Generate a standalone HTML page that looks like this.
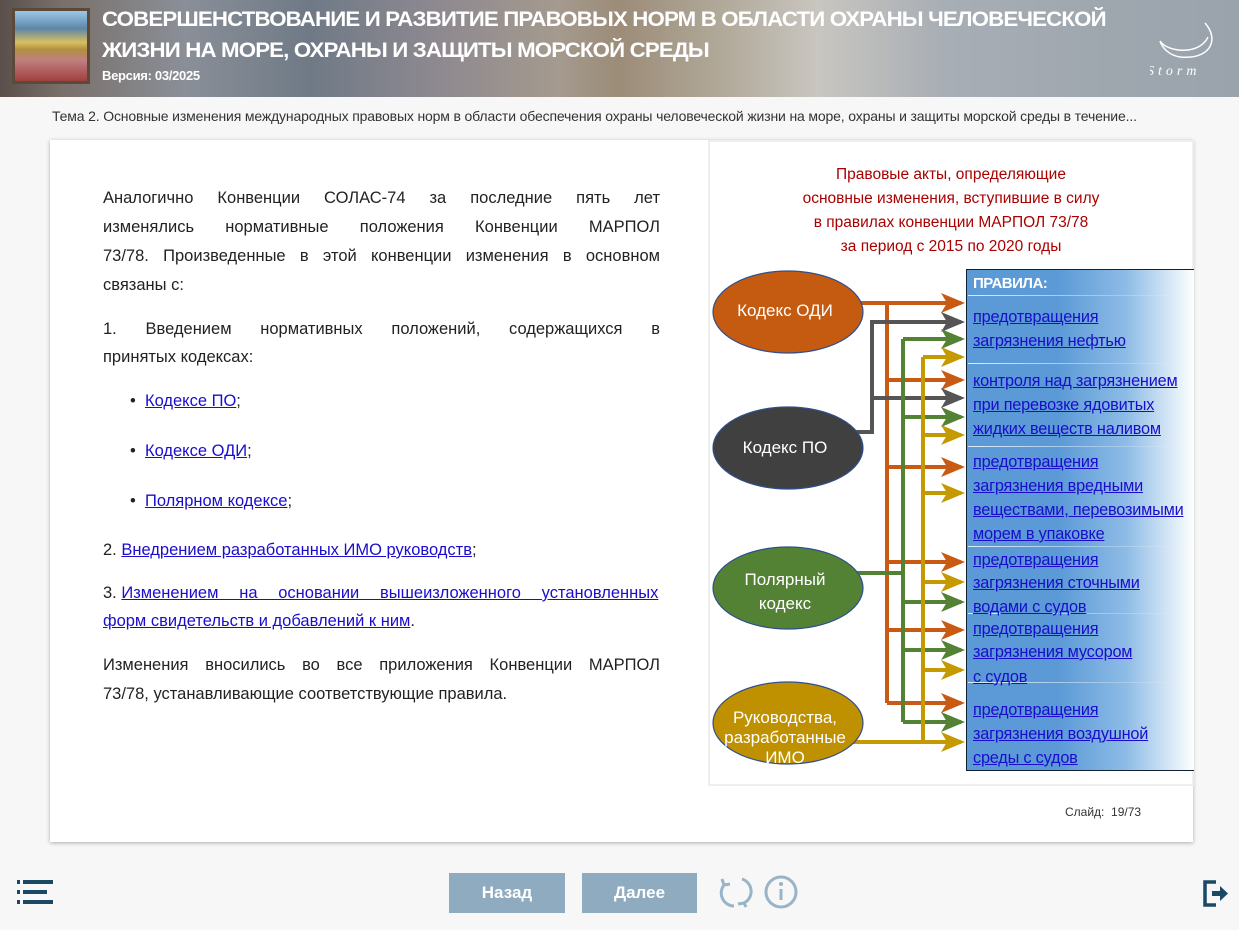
<!DOCTYPE html>
<html><head><meta charset="utf-8">
<style>
*{margin:0;padding:0;box-sizing:border-box}
body{width:1239px;height:930px;background:#f7f7f7;position:relative;overflow:hidden;font-family:"Liberation Sans",sans-serif}
.hdr{position:absolute;left:0;top:0;width:1239px;height:97px;background:linear-gradient(90deg,#5a4f4a 0%,#7a706a 5%,#8a8f98 15%,#6f7a86 25%,#8d8890 35%,#a49a8e 45%,#9c8c78 50%,#b0a898 58%,#c9c6c0 66%,#a8aeb5 76%,#9ea6ae 90%,#9aa3ac 100%)}
.hdr .t{position:absolute;left:102px;color:#fff;font-weight:bold;font-size:21px;letter-spacing:-0.8px;transform:scaleX(1.06);transform-origin:left;white-space:nowrap}
.line{position:absolute;left:103px;width:557px;font-size:16.5px;color:#222;line-height:20px;white-space:nowrap}
.j{text-align:justify;text-align-last:justify;white-space:normal}
a{color:#1a0dcc;text-decoration:underline}
.r{position:absolute;left:973px;font-size:16.3px;color:#1a0dcc;text-decoration:underline;line-height:18px;white-space:nowrap;letter-spacing:-0.2px}
.sep{position:absolute;left:968px;width:226px;height:1px;background:linear-gradient(90deg,rgba(255,255,255,.8),rgba(255,255,255,0))}
.btn{position:absolute;top:873px;height:40px;background:#8fabc0;color:#fff;font-size:17px;font-weight:bold;text-align:center;line-height:40px}
</style></head><body>
<div class="hdr">
 <div style="position:absolute;left:12px;top:8px;width:78px;height:76px;background:#5b4a3a;padding:3px"><div style="width:100%;height:100%;background:linear-gradient(180deg,#9cc8e8 0%,#5e86a8 25%,#d8c060 45%,#b09040 55%,#c08080 70%,#a04040 100%)"></div></div>
 <div class="t" style="top:8px">СОВЕРШЕНСТВОВАНИЕ И РАЗВИТИЕ ПРАВОВЫХ НОРМ В ОБЛАСТИ ОХРАНЫ ЧЕЛОВЕЧЕСКОЙ</div>
 <div class="t" style="top:39px">ЖИЗНИ НА МОРЕ, ОХРАНЫ И ЗАЩИТЫ МОРСКОЙ СРЕДЫ</div>
 <div class="t" style="top:68px;font-size:13px;letter-spacing:-0.3px;transform:none">Версия: 03/2025</div>
 <svg style="position:absolute;left:1150px;top:15px" width="80" height="70"><path d="M55 8 C70 25 60 45 30 42 C18 40 12 32 10 26 C18 38 50 40 58 22" stroke="#fff" stroke-width="1.5" fill="none"/><text x="-3" y="60" fill="#fff" font-size="14" font-style="italic" letter-spacing="4" font-family="Liberation Serif">Storm</text></svg>
</div>
<div style="position:absolute;left:52px;top:108px;font-size:14px;color:#333;letter-spacing:-0.15px;white-space:nowrap">Тема 2. Основные изменения международных правовых норм в области обеспечения охраны человеческой жизни на море, охраны и защиты морской среды в течение...</div>
<div style="position:absolute;left:50px;top:140px;width:1143px;height:702px;background:#fff;box-shadow:0 1px 4px rgba(0,0,0,.3)"></div>

<div class="line j" style="top:188px">Аналогично Конвенции СОЛАС-74 за последние пять лет</div>
<div class="line j" style="top:217px">изменялись нормативные положения Конвенции МАРПОЛ</div>
<div class="line j" style="top:246px">73/78. Произведенные в этой конвенции изменения в основном</div>
<div class="line" style="top:275px">связаны с:</div>
<div class="line j" style="top:319px">1. Введением нормативных положений, содержащихся в</div>
<div class="line" style="top:347px">принятых кодексах:</div>
<div class="line" style="top:391px;left:130px">•&nbsp;&nbsp;<a>Кодексе ПО</a>;</div>
<div class="line" style="top:441px;left:130px">•&nbsp;&nbsp;<a>Кодексе ОДИ</a>;</div>
<div class="line" style="top:491px;left:130px">•&nbsp;&nbsp;<a>Полярном кодексе</a>;</div>
<div class="line" style="top:540px">2. <a>Внедрением разработанных ИМО руководств</a>;</div>
<div class="line" style="top:583px">3. <a style="display:inline-block;width:537px;text-align:justify;text-align-last:justify">Изменением на основании вышеизложенного установленных</a></div>
<div class="line" style="top:611px"><a>форм свидетельств и добавлений к ним</a>.</div>
<div class="line j" style="top:655px">Изменения вносились во все приложения Конвенции МАРПОЛ</div>
<div class="line" style="top:684px">73/78, устанавливающие соответствующие правила.</div>

<div style="position:absolute;left:708px;top:140px;width:486px;height:646px;background:#fff;border:2px solid #eee"></div>
<div style="position:absolute;left:708px;top:163px;width:486px;text-align:center;color:#a00;font-size:15.5px;line-height:24px">Правовые акты, определяющие<br>основные изменения, вступившие в силу<br>в правилах конвенции МАРПОЛ 73/78<br>за период с 2015 по 2020 годы</div>

<div style="position:absolute;left:966px;top:269px;width:228px;height:502px;border-left:1.5px solid #123;border-top:1.5px solid #123;border-bottom:1.5px solid #123;background:linear-gradient(90deg,#5b9ad6 0%,#5b9ad6 40%,#8dbbe6 70%,#fff 100%)"></div>
<div style="position:absolute;left:973px;top:275px;color:#fff;font-weight:bold;font-size:15px;letter-spacing:-0.5px">ПРАВИЛА:</div>
<div class="sep" style="top:295px"></div><div class="sep" style="top:363px"></div><div class="sep" style="top:446px"></div><div class="sep" style="top:546px"></div><div class="sep" style="top:613px"></div><div class="sep" style="top:682px"></div>
<div class="r" style="top:308px">предотвращения</div>
<div class="r" style="top:332px">загрязнения нефтью</div>
<div class="r" style="top:372px">контроля над загрязнением</div>
<div class="r" style="top:396px">при перевозке ядовитых</div>
<div class="r" style="top:420px">жидких веществ наливом</div>
<div class="r" style="top:453px">предотвращения</div>
<div class="r" style="top:477px">загрязнения вредными</div>
<div class="r" style="top:501px">веществами, перевозимыми</div>
<div class="r" style="top:525px">морем в упаковке</div>
<div class="r" style="top:551px">предотвращения</div>
<div class="r" style="top:574px">загрязнения сточными</div>
<div class="r" style="top:598px">водами с судов</div>
<div class="r" style="top:620px">предотвращения</div>
<div class="r" style="top:643px">загрязнения мусором</div>
<div class="r" style="top:668px">с судов</div>
<div class="r" style="top:701px">предотвращения</div>
<div class="r" style="top:725px">загрязнения воздушной</div>
<div class="r" style="top:749px">среды с судов</div>

<svg style="position:absolute;left:0;top:0" width="1239" height="930">
<defs>
<marker id="mo" markerWidth="6" markerHeight="5" refX="5" refY="2.5" orient="auto" markerUnits="strokeWidth"><path d="M0 0 L6 2.5 L0 5 L1.5 2.5Z" fill="#c85a14"/></marker>
<marker id="mg" markerWidth="6" markerHeight="5" refX="5" refY="2.5" orient="auto" markerUnits="strokeWidth"><path d="M0 0 L6 2.5 L0 5 L1.5 2.5Z" fill="#555"/></marker>
<marker id="mn" markerWidth="6" markerHeight="5" refX="5" refY="2.5" orient="auto" markerUnits="strokeWidth"><path d="M0 0 L6 2.5 L0 5 L1.5 2.5Z" fill="#548235"/></marker>
<marker id="my" markerWidth="6" markerHeight="5" refX="5" refY="2.5" orient="auto" markerUnits="strokeWidth"><path d="M0 0 L6 2.5 L0 5 L1.5 2.5Z" fill="#c49a00"/></marker>
</defs>
<g stroke-width="4" fill="none">
<g stroke="#c85a14">
<path d="M855 303 H961" marker-end="url(#mo)"/>
<path d="M887 303 V703"/>
<path d="M887 380H961" marker-end="url(#mo)"/><path d="M887 467H961" marker-end="url(#mo)"/><path d="M887 562H961" marker-end="url(#mo)"/><path d="M887 630H961" marker-end="url(#mo)"/><path d="M887 703H961" marker-end="url(#mo)"/>
</g>
<g stroke="#555">
<path d="M852 432H872V322H961" marker-end="url(#mg)"/><path d="M872 398H961" marker-end="url(#mg)"/>
</g>
<g stroke="#548235">
<path d="M855 573H903"/><path d="M903 339V722"/>
<path d="M903 339H961" marker-end="url(#mn)"/><path d="M903 417H961" marker-end="url(#mn)"/><path d="M903 602H961" marker-end="url(#mn)"/><path d="M903 650H961" marker-end="url(#mn)"/><path d="M903 722H961" marker-end="url(#mn)"/>
</g>
<g stroke="#c49a00">
<path d="M850 742H961" marker-end="url(#my)"/><path d="M923 357V742"/>
<path d="M923 357H961" marker-end="url(#my)"/><path d="M923 435H961" marker-end="url(#my)"/><path d="M923 493H961" marker-end="url(#my)"/><path d="M923 582H961" marker-end="url(#my)"/><path d="M923 670H961" marker-end="url(#my)"/>
</g>
</g>
<g stroke="#2f4f8f" stroke-width="1.2">
<ellipse cx="788" cy="312" rx="75" ry="41" fill="#c55a11"/>
<ellipse cx="788" cy="448" rx="75" ry="41" fill="#404040"/>
<ellipse cx="788" cy="588" rx="75" ry="41" fill="#548235"/>
<ellipse cx="788" cy="723" rx="75" ry="41" fill="#bf9000"/>
</g>
<g fill="#fff" font-size="17" text-anchor="middle" font-family="Liberation Sans">
<text x="785" y="316">Кодекс ОДИ</text>
<text x="785" y="453">Кодекс ПО</text>
<text x="785" y="585">Полярный</text><text x="785" y="609">кодекс</text>
<text x="785" y="723">Руководства,</text><text x="785" y="743">разработанные</text><text x="785" y="763">ИМО</text>
</g>
</svg>

<div style="position:absolute;left:1065px;top:805px;font-size:12px;color:#333">Слайд: &nbsp;19/73</div>

<svg style="position:absolute;left:17px;top:880px" width="36" height="26"><g fill="#1b4965"><rect x="0" y="0" width="3" height="4"/><rect x="6" y="0" width="30" height="4"/><rect x="0" y="10" width="3" height="4"/><rect x="6" y="10" width="24" height="4"/><rect x="0" y="20" width="3" height="4"/><rect x="6" y="20" width="30" height="4"/></g></svg>
<div class="btn" style="left:449px;width:116px">Назад</div>
<div class="btn" style="left:582px;width:115px">Далее</div>
<svg style="position:absolute;left:714px;top:873px" width="90" height="40"><g stroke="#9ab4c7" stroke-width="3" fill="none"><path d="M10 12 A13 13 0 0 0 20 33"/><path d="M10 12 l-2 -6 M10 12 l6 -1"/><path d="M28 6 A13 13 0 0 1 30 30"/><path d="M30 30 l2 4 M30 30 l-6 1"/><circle cx="67" cy="19" r="15"/></g><rect x="65.5" y="16" width="3" height="11" fill="#9ab4c7"/><circle cx="67" cy="11" r="2" fill="#9ab4c7"/></svg>
<svg style="position:absolute;left:1202px;top:880px" width="28" height="28"><path d="M14 2H3V25H14" stroke="#1b4965" stroke-width="3.5" fill="none"/><path d="M10 11H18V6L26 13.5L18 21V16H10Z" fill="#1b4965"/></svg>
</body></html>
